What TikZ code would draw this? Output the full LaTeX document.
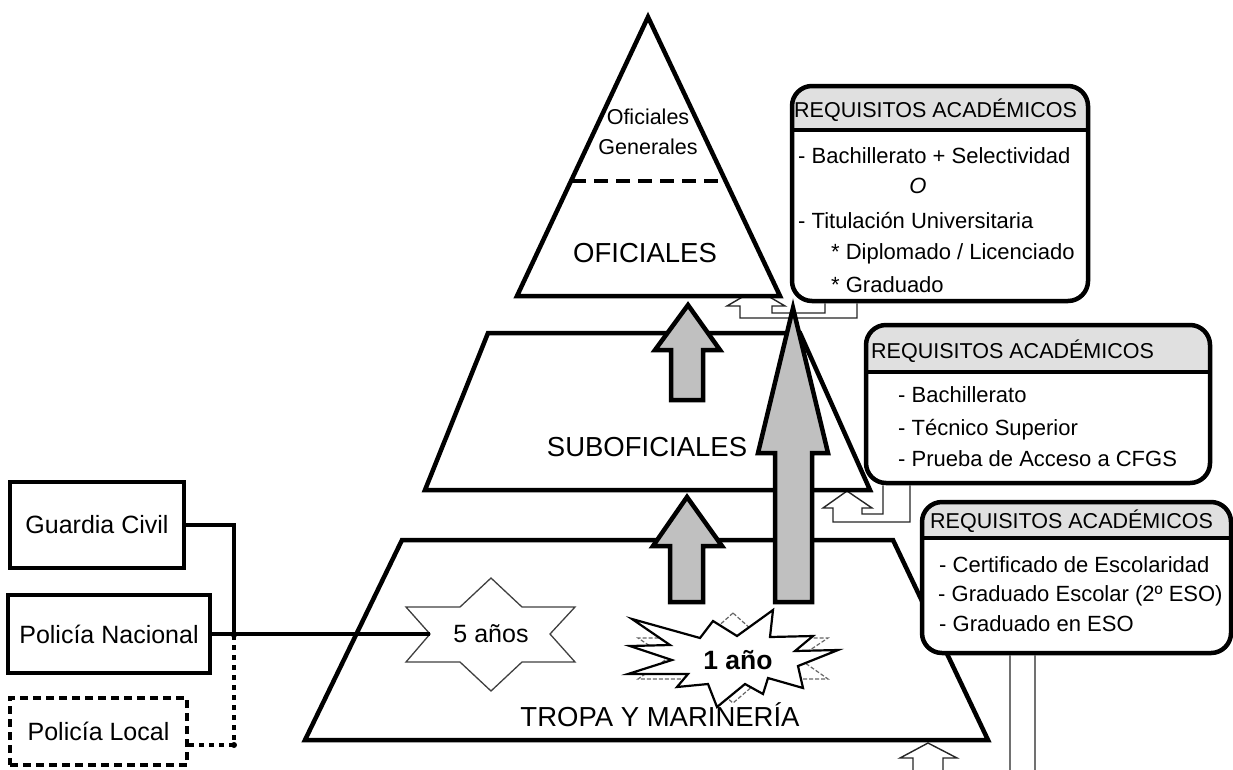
\documentclass[tikz,border=0pt]{standalone}
\usepackage{fontspec}
\setmainfont{Liberation Sans}
\usetikzlibrary{backgrounds,calc}
\definecolor{arrowgray}{HTML}{C0C0C0}
\definecolor{hdrgray}{HTML}{E0E0E0}
\begin{document}
\begin{tikzpicture}[x=1pt,y=-1pt,
  lvl/.style={draw=black, line width=4.5pt, fill=white, line join=miter},
  garrow/.style={draw=black, line width=4.5pt, fill=arrowgray, line join=miter},
  harrow/.style={draw=black!85, line width=1.4pt, fill=white, line join=miter},
  reqbox/.style={draw=black, line width=4.5pt, rounded corners=20pt, inner sep=0pt},
  body/.style={font=\fontsize{22}{26}\selectfont, anchor=base west, inner sep=0pt},
  htext/.style={font=\fontsize{21.5}{26}\selectfont, anchor=base west, inner sep=0pt},
  lvltext/.style={font=\fontsize{27.5}{32}\selectfont, inner sep=0pt},
  ebox/.style={draw=black, line width=4.5pt, inner sep=0pt, font=\fontsize{25}{30}\selectfont},
  conn/.style={line width=4pt},
  dconn/.style={line width=4pt, dash pattern=on 5pt off 5pt},
  starline/.style={draw=black!75, line width=1.3pt, fill=white},
]
\useasboundingbox (0,0) rectangle (1233,769);

% ---------- pyramid ----------
\draw[lvl] (402,540) -- (893,540) -- (988,740) -- (305,740) -- cycle;
\draw[lvl] (488,333) -- (800,333) -- (870,490) -- (425,490) -- cycle;
\draw[lvl] (648,17) -- (780,296) -- (517,296) -- cycle;
\draw[line width=4.5pt, dash pattern=on 14pt off 8pt] (572,181) -- (727,181);

\node[font=\fontsize{21.5}{24}\selectfont, inner sep=0pt] (ofg1) at (648,117) {Oficiales};
\node[font=\fontsize{21.5}{24}\selectfont, inner sep=0pt] (ofg2) at (648,147) {Generales};
\node[lvltext] (of) at (645,253) {OFICIALES};
\node[lvltext] (sub) at (647,447) {SUBOFICIALES};
\node[lvltext] (tropa) at (660,715) {TROPA Y MARINERÍA};

% ---------- gray arrows ----------
\draw[garrow] (688,305) -- (720,350) -- (703,350) -- (703,400) -- (671,400) -- (671,350) -- (655,350) -- cycle;
\draw[garrow] (687,497) -- (722,546) -- (703,546) -- (703,602) -- (670,602) -- (670,546) -- (653,546) -- cycle;
\draw[garrow] (793,308) -- (828,453) -- (812,453) -- (812,602) -- (775,602) -- (775,453) -- (758,453) -- cycle;

% ---------- stars ----------
\draw[starline] (491,578) -- (460,607) -- (406,607) -- (430,634) -- (406,662) -- (460,662) -- (491,691) -- (522,662) -- (575,662) -- (550,634) -- (575,607) -- (522,607) -- cycle;
\coordinate (s5w) at (430,634);
\node[font=\fontsize{25}{28}\selectfont, inner sep=0pt] (yrs5) at (491,634) {5 años};

\draw[draw=black!60, line width=1.2pt, dash pattern=on 4pt off 2pt, fill=white] (733,613) -- (705,638) -- (638,638) -- (668,658) -- (638,679) -- (705,679) -- (733,703) -- (761,679) -- (828,679) -- (798,658) -- (828,638) -- (761,638) -- cycle;
\draw[draw=black, line width=2.2pt, fill=white, line join=miter]
  (632,619) -- (700,638) -- (713,621) -- (737,636) -- (773,610) -- (770,637) -- (813,636) -- (795,651) -- (838,650) -- (798,666) -- (803,688) -- (768,678) -- (763,694) -- (745,684) -- (717,707) -- (708,684) -- (677,687) -- (688,674) -- (628,674) -- (672,660) -- (630,646) -- (670,645) -- cycle;
\node[font=\bfseries\fontsize{26.5}{30}\selectfont, inner sep=0pt] (yrs1) at (738,660) {1 año};

% ---------- requisitos box 1 ----------
\fill[white, rounded corners=20pt] (792,86) rectangle (1088,301);
\begin{scope}
\clip[rounded corners=20pt] (792,86) rectangle (1088,301);
\fill[hdrgray] (792,86) rectangle (1088,130);
\end{scope}
\draw[line width=4.5pt] (792,130) -- (1088,130);
\node[reqbox, minimum width=296pt, minimum height=215pt] (req1) at (940,193.5) {};
\node[htext] (h1) at (794,117) {REQUISITOS ACADÉMICOS};
\node[body] (r1a) at (798,163) {- Bachillerato + Selectividad};
\node[body, anchor=base] (r1b) at (918,193) {\itshape O};
\node[body] (r1c) at (798,228) {- Titulación Universitaria};
\node[body] (r1d) at (831,259) {* Diplomado / Licenciado};
\node[body] (r1e) at (831,292) {* Graduado};

% ---------- requisitos box 2 ----------
\fill[white, rounded corners=20pt] (866,325) rectangle (1210,483);
\begin{scope}
\clip[rounded corners=20pt] (866,325) rectangle (1210,483);
\fill[hdrgray] (866,325) rectangle (1210,372);
\end{scope}
\draw[line width=4.5pt] (866,372) -- (1210,372);
\node[reqbox, minimum width=344pt, minimum height=158pt] (req2) at (1038,404) {};
\node[htext] (h2) at (871,358) {REQUISITOS ACADÉMICOS};
\node[body] (r2a) at (898,402) {- Bachillerato};
\node[body] (r2b) at (898,435) {- Técnico Superior};
\node[body] (r2c) at (898,466) {- Prueba de Acceso a CFGS};

% ---------- requisitos box 3 ----------
\fill[white, rounded corners=20pt] (922,502) rectangle (1231,653);
\begin{scope}
\clip[rounded corners=20pt] (922,502) rectangle (1231,653);
\fill[hdrgray] (922,502) rectangle (1231,538);
\end{scope}
\draw[line width=4.5pt] (922,538) -- (1231,538);
\node[reqbox, minimum width=309pt, minimum height=151pt] (req3) at (1076.5,577.5) {};
\node[htext] (h3) at (930,528) {REQUISITOS ACADÉMICOS};
\node[body] (r3a) at (939,572) {- Certificado de Escolaridad};
\node[body] (r3b) at (938,601) {- Graduado Escolar (2º ESO)};
\node[body] (r3c) at (939,631) {- Graduado en ESO};

% ---------- left boxes ----------
\node[ebox, minimum width=174pt, minimum height=86pt] (gc) at (97,525) {Guardia Civil};
\node[ebox, minimum width=202pt, minimum height=78pt] (pn) at (109,634) {Policía Nacional};
\node[ebox, dash pattern=on 8pt off 5pt, minimum width=177pt, minimum height=67pt] (pl) at (98.5,731.5) {Policía Local};
\coordinate (jn) at (234,635);
\draw[conn] (gc.east) -| (jn);
\draw[conn] (pn.east) -- (s5w);
\draw[dconn] (jn) |- ([yshift=-13.5pt]pl.east);
\fill (jn) circle (3pt);
\fill (234,745) circle (3pt);

% ---------- hollow arrows (behind) ----------
\begin{pgfonlayer}{background}
\fill[white] (0,0) rectangle (1233,769);
\draw[harrow] ([xshift=-83pt]req1.south) -- (857,318) -- (740,318) -- (740,306) -- (727,306) -- (756,289) -- (785,306) -- (772,306) -- (772,313) -- (825,313) -- ([xshift=-115pt]req1.south);
\draw[harrow] ([xshift=-128pt]req2.south) -- (910,522) -- (833,522) -- (833,508) -- (823,508) -- (847,491) -- (872,508) -- (862,508) -- (862,514) -- (883,514) -- ([xshift=-155pt]req2.south);
\draw[harrow] ([xshift=-41.5pt]req3.south) -- (1035,800) -- (913,800) -- (913,758) -- (900,758) -- (928,743) -- (957,758) -- (943,758) -- (943,790) -- (1010,790) -- ([xshift=-66.5pt]req3.south);
\end{pgfonlayer}
\end{tikzpicture}
\end{document}
